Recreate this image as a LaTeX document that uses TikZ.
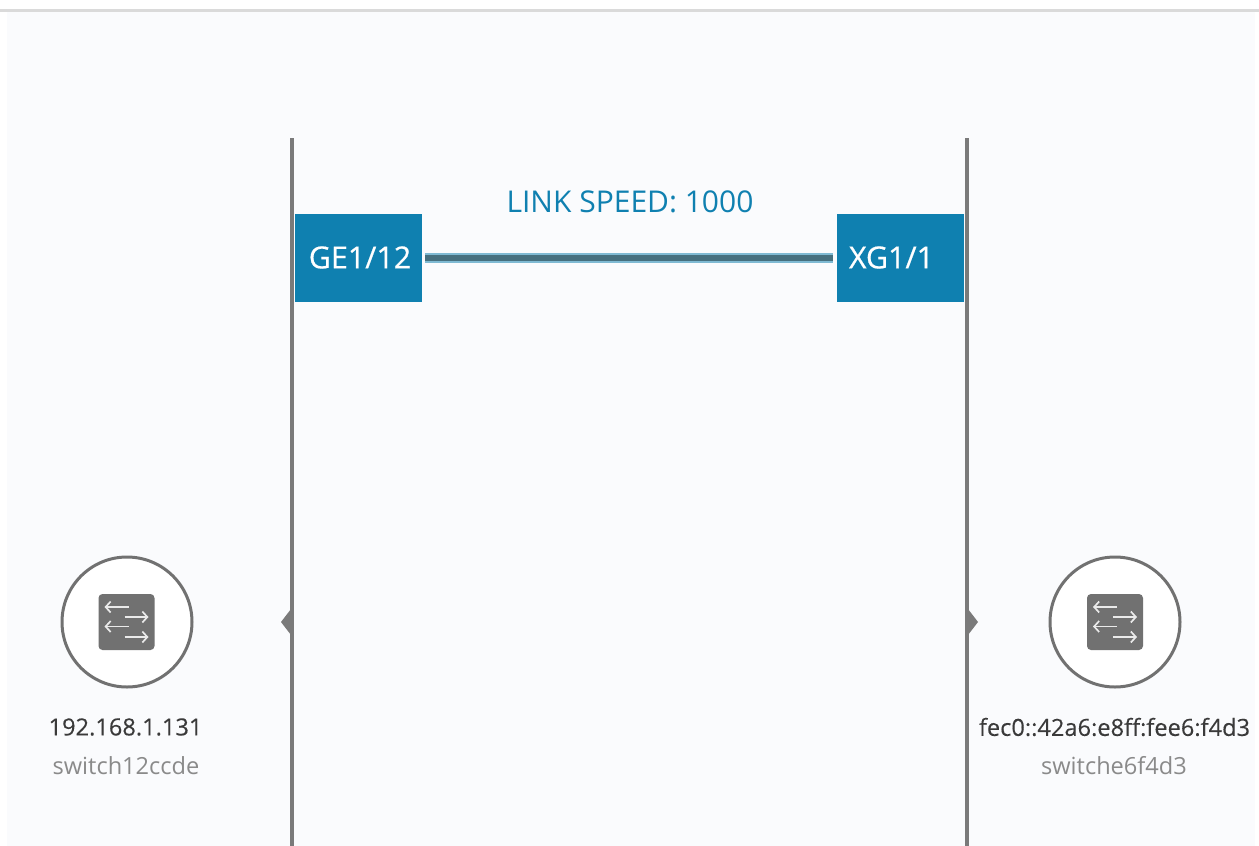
\documentclass[tikz,border=0pt]{standalone}
\usepackage{fontspec}
\setmainfont{Open Sans}
\usetikzlibrary{arrows.meta}
\definecolor{panelbg}{HTML}{FAFBFD}
\definecolor{portblue}{HTML}{0F80B0}
\definecolor{linegrey}{HTML}{7A7A7A}
\definecolor{icongrey}{HTML}{717171}
\definecolor{linkdark}{HTML}{46707F}
\definecolor{linklight}{HTML}{7FBAD3}
\definecolor{topline}{HTML}{DADADA}
\definecolor{subtext}{HTML}{8A8A8A}
\definecolor{maintext}{HTML}{3A3A3A}
\tikzset{
  x=1pt,y=-1pt,
  portbox/.style={fill=portblue,draw=none,minimum width=127pt,minimum height=88pt,inner sep=0pt,text=white,font=\fontsize{30.4}{32}\selectfont\addfontfeature{FakeBold=0.6}},
  rail/.style={draw=linegrey,line width=3.5pt},
  hostcircle/.style={circle,draw=icongrey,fill=white,line width=3pt,minimum size=130pt,inner sep=0pt},
  iconbox/.style={fill=icongrey,rounded corners=4pt,minimum size=56pt,inner sep=0pt},
  iconarrow/.style={draw=white!85!icongrey,line width=1.7pt,-{Straight Barb[length=5pt,width=11pt]}},
  addr/.style={text=maintext,font=\fontsize{23.6}{26}\selectfont\addfontfeature{FakeBold=0.25},inner sep=0pt},
  devname/.style={text=subtext,font=\fontsize{23.6}{26}\selectfont,inner sep=0pt},
  pointer/.style={fill=linegrey,draw=none},
}
\begin{document}
\begin{tikzpicture}
\useasboundingbox (0,0) rectangle (1259,846);
\fill[white] (0,0) rectangle (1259,846);
\fill[panelbg] (7,11) rectangle (1255,846);
\fill[topline] (0,9) rectangle (1259,12);
% rails
\coordinate (lt) at (292,138);
\coordinate (lb) at (292,846);
\coordinate (rt) at (967,138);
\coordinate (rb) at (967,846);
\draw[rail] (lt) -- (lb);
\draw[rail] (rt) -- (rb);
\fill[pointer] (291,609) -- (281,622) -- (291,635) -- cycle;
\fill[pointer] (968,609) -- (978,622) -- (968,635) -- cycle;
% ports
\node[portbox] (ge) at (358.5,257.5) {\kern3pt GE1/12};
\node[portbox] (xg) at (900,257.5) {\kern-17pt XG1/1};
\draw[linklight,line width=10pt,shorten <=3pt,shorten >=3pt] (ge) -- (xg);
\draw[linkdark,line width=6pt,shorten <=3pt,shorten >=3pt] (ge) -- (xg);
\node[text=portblue,font=\fontsize{30}{32}\selectfont,inner sep=0pt] (speed) at (630,202) {LINK SPEED: 1000};
% hosts
\node[hostcircle] (hl) at (127,622) {};
\node[iconbox] (il) at (126.5,622) {};
\node[hostcircle] (hr) at (1115,622) {};
\node[iconbox] (ir) at (1115,622) {};
\foreach \cx in {126.5,1115}{
  \draw[iconarrow] (\cx+2,607) -- (\cx-22,607);
  \draw[iconarrow] (\cx-2,617) -- (\cx+22,617);
  \draw[iconarrow] (\cx+2,626.5) -- (\cx-22,626.5);
  \draw[iconarrow] (\cx-2,637) -- (\cx+22,637);
}
\node[addr] (al) at (125.5,727) {192.168.1.131};
\node[devname] (nl) at (126,766) {switch12ccde};
\node[addr] (ar) at (1114.5,727) {fec0::42a6:e8ff:fee6:f4d3};
\node[devname] (nr) at (1114,766) {switche6f4d3};
\end{tikzpicture}
\end{document}
